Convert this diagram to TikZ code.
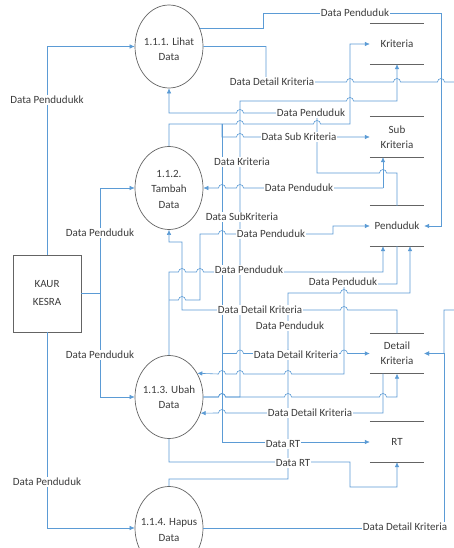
\documentclass[tikz,border=0pt]{standalone}
\usepackage{fontspec}
\setmainfont{Carlito}
\usetikzlibrary{shapes.geometric,arrows.meta}
\definecolor{ln}{RGB}{91,155,213}
\definecolor{tx}{RGB}{60,60,60}
\definecolor{bd}{RGB}{100,100,100}
\newcommand\hopr[2]{-- ({#1-3.5},#2) arc[start angle=180,end angle=0,radius=3.5pt]}
\newcommand\hopl[2]{-- ({#1+3.5},#2) arc[start angle=0,end angle=180,radius=3.5pt]}
\begin{document}
\begin{tikzpicture}[x=1pt,y=-1pt,
 proc/.style={ellipse,draw=bd,line width=0.7pt,fill=white,minimum width=68pt,minimum height=83pt,inner sep=0pt},
 ptext/.style={align=center,text=tx,font=\fontsize{11}{15.5}\selectfont,inner sep=0pt},
 ent/.style={draw=bd,line width=0.7pt,fill=white,minimum width=68pt,minimum height=77pt,align=center,text=tx,font=\fontsize{11}{18}\selectfont},
 store/.style={minimum width=54pt,minimum height=40pt,inner sep=0pt,align=center,text=tx,font=\fontsize{11}{15}\selectfont},
 sline/.style={draw=bd,line width=0.9pt},
 flow/.style={draw=ln,line width=0.6pt,-{Latex[length=5pt,width=4.5pt]}},
 lbl/.style={fill=white,inner sep=1pt,text=tx,font=\fontsize{11}{13}\selectfont},
]
\path[use as bounding box,fill=white] (0,0) rectangle (453,548);

% processes, entity, stores
\node[proc] (p1) at (169,46.5) {};
\node[ptext] (p1t) at (169,49) {1.1.1. Lihat\\Data};
\node[proc] (p2) at (169,188) {};
\node[ptext] (p2t) at (169,189) {1.1.2.\\Tambah\\Data};
\node[proc] (p3) at (169,397) {};
\node[ptext] (p3t) at (169,397) {1.1.3. Ubah\\Data};
\node[proc] (p4) at (169,528) {};
\node[ptext] (p4t) at (169,530) {1.1.4. Hapus\\Data};
\node[ent] (kk) at (47,293.5) {KAUR\\KESRA};
\node[store] (ks) at (397,44) {Kriteria};
\node[store] (sk) at (397,137) {Sub\\Kriteria};
\node[store] (pd) at (397,226) {Penduduk};
\node[store] (dk) at (397,353.5) {Detail\\Kriteria};
\node[store] (rt) at (397,442) {RT};
\foreach \s in {ks,sk,pd,dk,rt} \draw[sline] (\s.north west) -- (\s.north east) (\s.south west) -- (\s.south east);

\coordinate (j1) at (222,124);
\coordinate (j2) at (222,353.5);
\coordinate (j3) at (383,188);
\coordinate (j4) at (169,300);
\coordinate (j5) at (410,293);
\coordinate (j6) at (444,353.5);

% entity flows
\draw[flow] (kk.north) |- (p1.west);
\draw[flow] (kk.east) -- (100,293.5) |- (p2.west);
\draw[flow] (kk.east) -- (100,293.5) |- (p3.west);
\draw[flow] (kk.south) |- (p4.west);

% store flows
\draw[flow] (p1.30) -| (263,13) -| (441,226) -- (pd.east);
\draw[flow] (p1.east) -| (266,82) \hopr{350}{82} \hopr{397}{82} \hopr{441}{82} -- (460,82) -- (460,310) -- (444,310) -- (j6) -- (dk.east);
\draw[flow] (p4.east) -| (j6) -- (dk.east);
\draw[flow] (pd.north) -- (397,173) \hopl{383}{173} -- (317,173) -- (317,113) \hopl{240}{113} -- (169,113) -- (p1.south);
\draw[flow] (p2.north) -- (169,124) \hopr{240}{124} \hopr{317}{124} -- (350,124) |- (ks.west);
\draw[flow] (j1) -- (222,137) \hopr{240}{137} \hopr{317}{137} -- (sk.west);
\draw[flow] (j1) -- (222,442) -- (rt.west);
\draw[flow] (j2) \hopr{240}{353.5} \hopr{288}{353.5} \hopr{344}{353.5} -- (dk.west);
\draw[flow] (p3.east) \hopr{222}{397} -- (240,397) -- (240,101) \hopr{350}{101} -- (397,101) -- (ks.south);
\draw[flow] (p3.east) \hopr{222}{397} \hopr{288}{397} \hopr{383}{397} -- (397,397) -- (dk.south);
\draw[flow] (j3) \hopl{240}{188} \hopl{222}{188} -- (p2.east);
\draw[flow] (j3) -- (j3 |- sk.south);
\draw[flow] (dk.north) -- (397,310) \hopl{344}{310} \hopl{288}{310} \hopl{240}{310} \hopl{222}{310} -- (182,310) -- (182,242) -- (169,242) -- (p2.south);
\draw[flow] (p3.north) -- (j4) -- (169,272) \hopr{182}{272} \hopr{200}{272} \hopr{222}{272} \hopr{240}{272} -- (383,272) -- (j3 |- pd.south);
\draw[flow] (j4) \hopr{182}{300} -- (200,300) -- (200,234) \hopr{222}{234} \hopr{240}{234} -- (333,234) -- (333,226) -- (pd.west);
\draw[flow] (pd.south) -- (397,284) -- (344,284) -- (344,374) \hopl{288}{374} \hopl{240}{374} \hopl{222}{374} -- (p3.40);
\draw[flow] (p4.north) -- (169,479) -- (288,479) -- (288,293) \hopr{344}{293} -- (j5) -- (j5 |- pd.south);
\draw[flow] (j3 |- dk.south) -- (383,413) \hopl{288}{413} \hopl{222}{413} -- (p3.-27);
\draw[flow] (p3.south) -- (169,462) \hopr{288}{462} -- (350,462) -- (350,487) -- (397,487) -- (rt.south);

% labels
\node[lbl] (a1) at (47,100) {Data Pendudukk};
\node[lbl] (a2) at (100,233) {Data Penduduk};
\node[lbl] (a3) at (100,355) {Data Penduduk};
\node[lbl] (a4) at (47,482) {Data Penduduk};
\node[lbl] (b1) at (355,13) {Data Penduduk};
\node[lbl] (b2) at (272,82) {Data Detail Kriteria};
\node[lbl] (b3) at (311,113) {Data Penduduk};
\node[lbl] (b4) at (299,137) {Data Sub Kriteria};
\node[lbl] (b5) at (242,162) {Data Kriteria};
\node[lbl] (b6) at (299,188) {Data Penduduk};
\node[lbl] (b7) at (242,217) {Data SubKriteria};
\node[lbl] (b8) at (271,234) {Data Penduduk};
\node[lbl] (b9) at (249,270) {Data Penduduk};
\node[lbl] (b10) at (343,282) {Data Penduduk};
\node[lbl] (b11) at (260,310) {Data Detail Kriteria};
\node[lbl] (b12) at (290,326) {Data Penduduk};
\node[lbl] (b13) at (296,355) {Data Detail Kriteria};
\node[lbl] (b14) at (310,413) {Data Detail Kriteria};
\node[lbl] (b15) at (283,444) {Data RT};
\node[lbl] (b16) at (293,463) {Data RT};
\node[lbl] (b17) at (405,527) {Data Detail Kriteria};
\end{tikzpicture}
\end{document}
